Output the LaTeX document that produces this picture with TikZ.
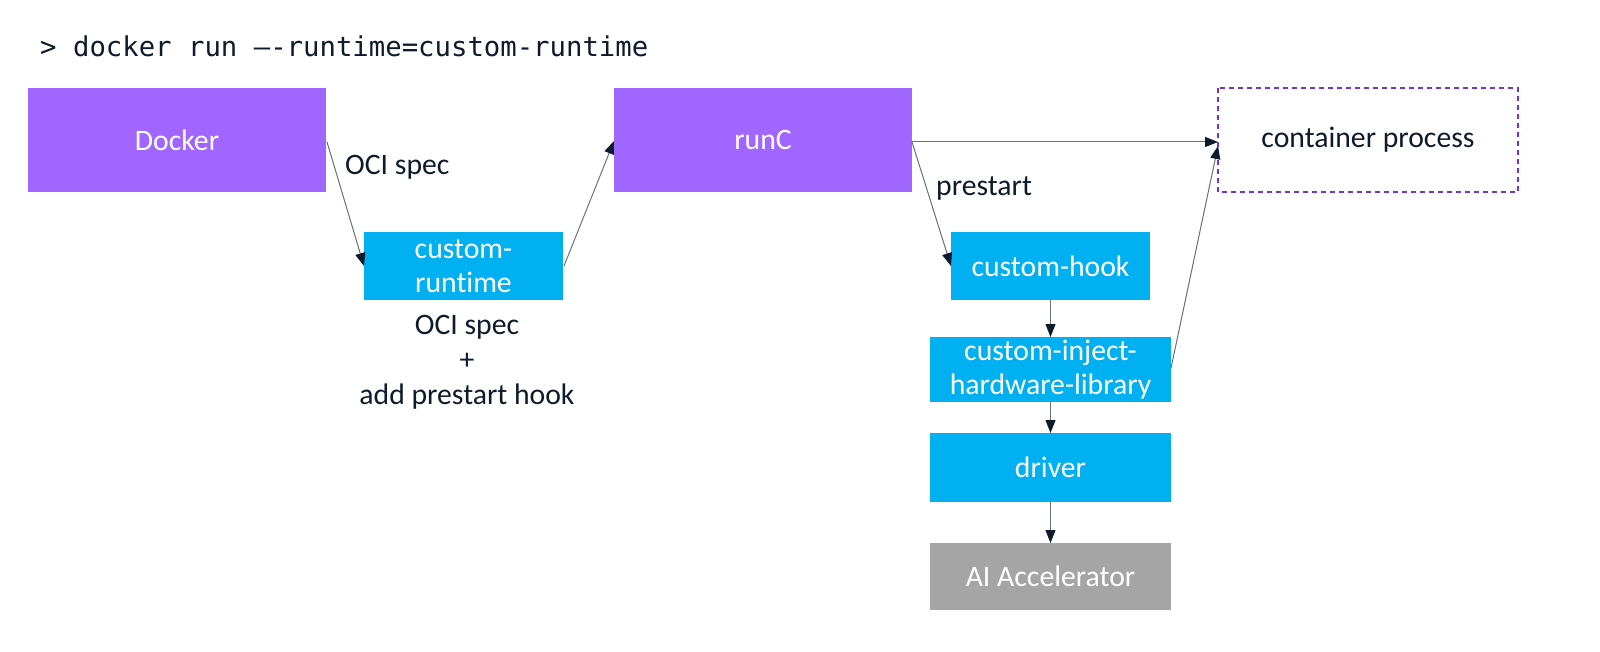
\documentclass[tikz,border=0pt]{standalone}
\usepackage{fontspec}
\setmainfont{Carlito}[Ligatures=NoCommon]
\newfontfamily\cmdfont{DejaVu Sans Mono}
\usetikzlibrary{arrows.meta}
\definecolor{dpurple}{HTML}{A066FF}
\definecolor{dblue}{HTML}{00B0F0}
\definecolor{dgray}{HTML}{A5A5A5}
\definecolor{dborder}{HTML}{7A2FD0}
\definecolor{dtext}{HTML}{0E1B2C}
\definecolor{dline}{HTML}{6B6F78}
\tikzset{
  box/.style={draw=none, inner sep=0pt, align=center, text=white, font=\fontsize{29.7}{34}\selectfont},
  lbl/.style={inner sep=0pt, align=center, text=dtext, font=\fontsize{29.7}{35}\selectfont},
  conn/.style={draw=dline, line width=1pt, -{Triangle[length=13pt,width=10pt,color=dtext]}},
}
\begin{document}
\begin{tikzpicture}[x=1pt, y=-1pt]
\useasboundingbox (0,0) rectangle (1600,652);
\fill[white] (0,0) rectangle (1600,652);
% command
\node[anchor=west, inner sep=0pt, text=dtext, font=\cmdfont\fontsize{27.3}{30}\selectfont] (cmd) at (40,46) {> docker run –-runtime=custom-runtime};
% boxes
\fill[dpurple] (28,88) rectangle (326,192);
\node[box] (docker) at (177,140) {Docker};
\fill[dpurple] (614,88) rectangle (912,192);
\node[box] (runc) at (763,140) {runC};
\draw[dborder, line width=1.3pt, dash pattern=on 5pt off 4pt] (1218,88) rectangle (1518,192);
\node[lbl] (cont) at (1368,140) {container process};
\fill[dblue] (364,232) rectangle (563,300);
\node[box, font=\fontsize{29.7}{34}\selectfont] (crt) at (463.5,266) {custom-\\runtime};
\fill[dblue] (951,232) rectangle (1150,300);
\node[box] (hook) at (1050.5,266) {custom-hook};
\fill[dblue] (930,337) rectangle (1171,402);
\node[box, font=\fontsize{29.7}{34}\selectfont] (inject) at (1050.5,369.5) {custom-inject-\\hardware-library};
\fill[dblue] (930,433) rectangle (1171,502);
\node[box] (driver) at (1050.5,467.5) {driver};
\fill[dgray] (930,543) rectangle (1171,610);
\node[box] (ai) at (1050.5,576.5) {AI Accelerator};
% anchor coordinates on box edges
\coordinate (dockerE) at (327,142);
\coordinate (crtW) at (364,266);
\coordinate (crtE) at (564,266);
\coordinate (runcW) at (614,141);
\coordinate (runcE) at (912,142);
\coordinate (contW) at (1218,142);
\coordinate (contW2) at (1218,146);
\coordinate (hookW) at (951,266);
\coordinate (hookS) at (1050.5,300);
\coordinate (injN) at (1050.5,337);
\coordinate (injS) at (1050.5,402);
\coordinate (injE) at (1171,368);
\coordinate (drvN) at (1050.5,433);
\coordinate (drvS) at (1050.5,502);
\coordinate (aiN) at (1050.5,543);
% connectors
\draw[conn] (dockerE) -- (crtW);
\draw[conn] (crtE) -- (runcW);
\draw[conn] (runcE) -- (contW);
\draw[conn] (runcE) -- (hookW);
\draw[conn] (injE) -- (contW2);
\draw[conn] (hookS) -- (injN);
\draw[conn] (injS) -- (drvN);
\draw[conn] (drvS) -- (aiN);
% labels
\node[lbl, anchor=west] (oci) at (345,167) {OCI spec};
\node[lbl, anchor=west] (pre) at (936,189) {prestart};
\node[lbl] (ocihook) at (467,362) {OCI spec\\+\\add prestart hook};
\end{tikzpicture}
\end{document}
